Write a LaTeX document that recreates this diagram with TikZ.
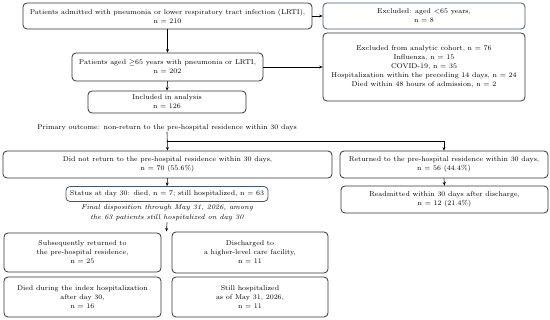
\documentclass[tikz,border=0pt]{standalone}
\usepackage{amsmath}
\usepackage{amssymb}
\usepackage{tikz}
\usetikzlibrary{arrows.meta,positioning,calc}

\definecolor{boxline}{HTML}{333333}
\definecolor{blueline}{HTML}{3E5879}

\tikzset{
    flowbox/.style={draw=boxline, rounded corners=4pt, line width=0.8pt,
        align=center, inner sep=0pt, font=\fontsize{7}{9}\selectfont},
    bluebox/.style={flowbox, draw=blueline},
    flowarrow/.style={-{Stealth[length=3.5pt,width=3pt]}, line width=0.6pt, color=black},
    plaintext/.style={align=center, inner sep=1pt, font=\fontsize{7}{9}\selectfont}
}

\begin{document}
\begin{tikzpicture}[x=1pt, y=-1pt]
    \useasboundingbox (0,0) rectangle (550,320);

    % --- 上段：納入と除外 ---
    \node[flowbox, minimum width=289pt, minimum height=26pt] (admit) at (167.5,16)
        {Patients admitted with pneumonia or lower respiratory tract infection (LRTI),\\ n = 210};
    \node[bluebox, minimum width=202pt, minimum height=26pt] (exage) at (424,16)
        {Excluded: aged <65 years,\\ n = 8};

    \node[flowbox, minimum width=191pt, minimum height=28pt] (aged) at (167.5,67)
        {Patients aged $\geq$65 years with pneumonia or LRTI,\\ n = 202};
    \node[flowbox, minimum width=202pt, minimum height=68pt] (excoh) at (424,67)
        {Excluded from analytic cohort, n = 76\\ Influenza, n = 15\\ COVID-19, n = 35\\
         Hospitalization within the preceding 14 days, n = 24\\ Died within 48 hours of admission, n = 2};

    \node[flowbox, minimum width=158pt, minimum height=22pt] (incl) at (167,102)
        {Included in analysis\\ n = 126};

    \node[plaintext] (outc) at (167,127.5)
        {Primary outcome: non-return to the pre-hospital residence within 30 days};

    % --- 中段：30日以内の転帰 ---
    \node[flowbox, minimum width=329pt, minimum height=27pt] (noret) at (167.5,164.5)
        {Did not return to the pre-hospital residence within 30 days,\\ n = 70 (55.6\%)};
    \node[flowbox, minimum width=208pt, minimum height=27pt] (ret) at (444,164.5)
        {Returned to the pre-hospital residence within 30 days,\\ n = 56 (44.4\%)};

    \node[bluebox, minimum width=202pt, minimum height=15pt] (status) at (167,194)
        {Status at day 30: died, n = 7; still hospitalized, n = 63};
    \node[flowbox, minimum width=207pt, minimum height=27pt] (readm) at (444.5,199.5)
        {Readmitted within 30 days after discharge,\\ n = 12 (21.4\%)};

    \node[plaintext, font=\fontsize{7}{10}\selectfont\itshape] (note) at (167,213)
        {Final disposition through May 31, 2026, among\\ the 63 patients still hospitalized on day 30};

    % --- 下段：最終転帰 ---
    \node[flowbox, minimum width=157pt, minimum height=39pt] (homeret) at (82.5,252.5)
        {Subsequently returned to\\ the pre-hospital residence,\\ n = 25};
    \node[flowbox, minimum width=156pt, minimum height=41pt] (highcare) at (250,252.5)
        {Discharged to\\ a higher-level care facility,\\ n = 11};
    \node[flowbox, minimum width=157pt, minimum height=40pt] (died) at (82.5,297)
        {Died during the index hospitalization\\ after day 30,\\ n = 16};
    \node[flowbox, minimum width=156pt, minimum height=40pt] (stillin) at (250,297)
        {Still hospitalized\\ as of May 31, 2026,\\ n = 11};

    % --- 矢印 ---
    \coordinate (split) at (167,141);
    \coordinate (finend) at (166.5,231.5);

    \draw[flowarrow] (admit.east) -- (exage.west);
    \draw[flowarrow] (admit.south) -- (aged.north);
    \draw[flowarrow] (aged.east) -- (excoh.west);
    \draw[flowarrow] (aged.south) -- (incl.north);
    \draw[flowarrow] (outc.south) -- (noret.north);
    \draw[flowarrow] (split) -| (ret.north);
    \draw[flowarrow] (noret.south) -- (status.north);
    \draw[flowarrow] (ret.south) -- (readm.north);
    \draw[flowarrow] (note.south) -- (finend);
\end{tikzpicture}
\end{document}
